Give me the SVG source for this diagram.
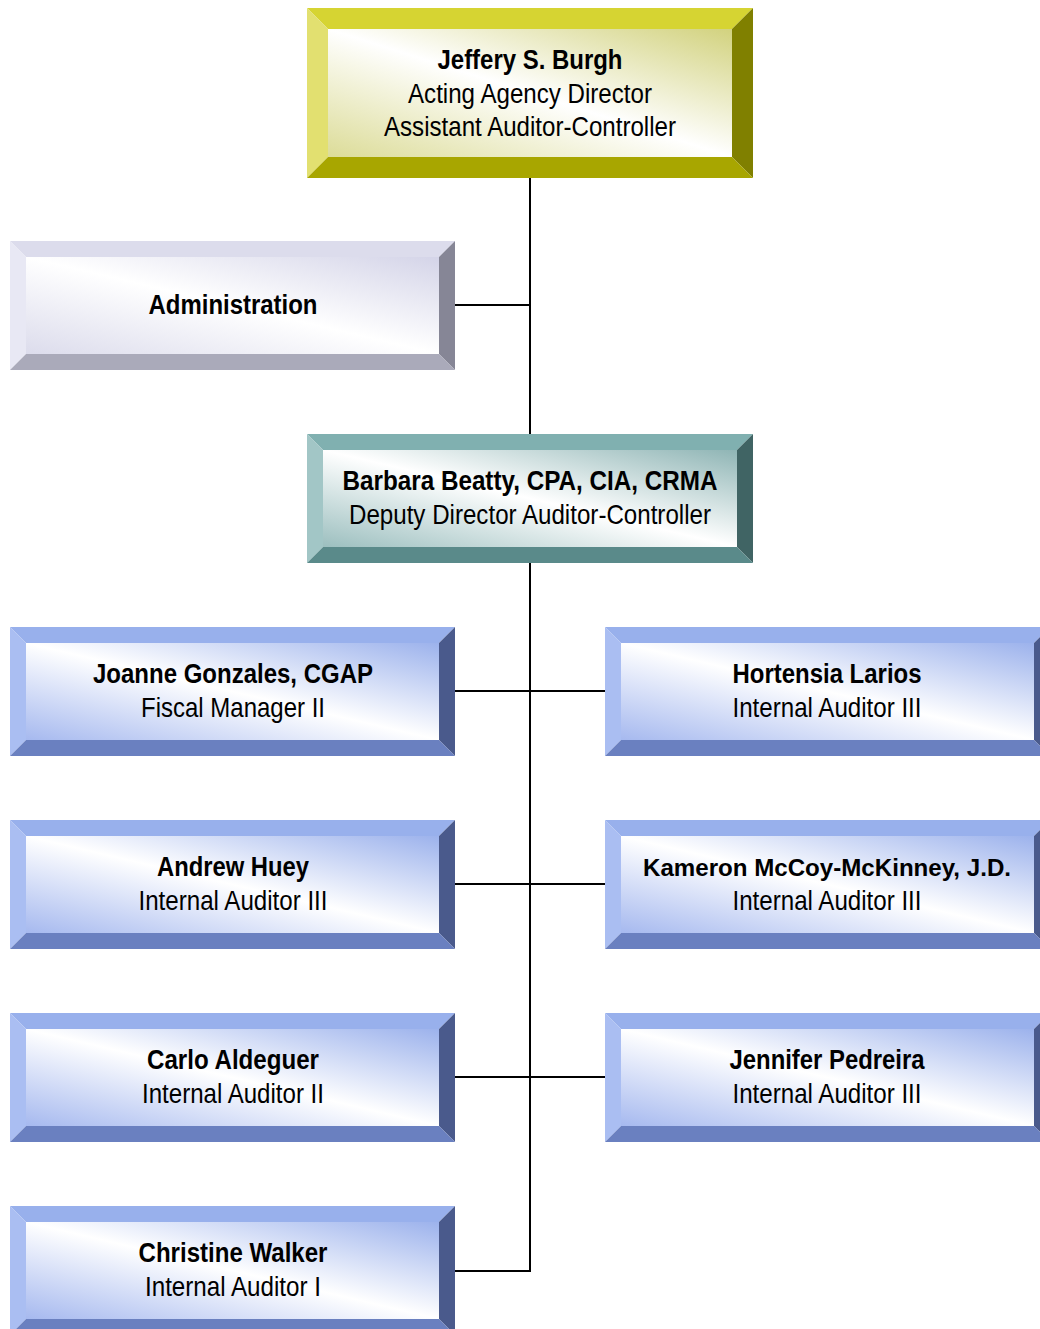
<svg xmlns="http://www.w3.org/2000/svg" width="1040" height="1329" viewBox="0 0 1040 1329">
<defs>
<linearGradient id="gY" x1="1" y1="0" x2="0" y2="1"><stop offset="0" stop-color="#d2d27e"/><stop offset="0.5" stop-color="#ffffff"/><stop offset="1" stop-color="#dcdc98"/></linearGradient>
<linearGradient id="gA" x1="1" y1="0" x2="0" y2="1"><stop offset="0" stop-color="#d4d4e8"/><stop offset="0.5" stop-color="#ffffff"/><stop offset="1" stop-color="#dcdcec"/></linearGradient>
<linearGradient id="gT" x1="1" y1="0" x2="0" y2="1"><stop offset="0" stop-color="#8fb5b5"/><stop offset="0.5" stop-color="#ffffff"/><stop offset="1" stop-color="#9cbfbf"/></linearGradient>
<linearGradient id="gB" x1="1" y1="0" x2="0" y2="1"><stop offset="0" stop-color="#9cb2ec"/><stop offset="0.5" stop-color="#ffffff"/><stop offset="1" stop-color="#a6b9ef"/></linearGradient>
</defs>
<style>
text{font-family:"Liberation Sans Narrow","Liberation Sans",Arial,sans-serif;font-size:27.5px;fill:#000;text-anchor:middle}
.b{font-weight:bold}
.s{font-size:24.5px}
.y .t{fill:#d6d432}.y .l{fill:#e2e070}.y .r{fill:#808000}.y .m{fill:#a8a600}.y .i{fill:url(#gY)}
.a .t{fill:#dcdcec}.a .l{fill:#e8e8f4}.a .r{fill:#868696}.a .m{fill:#aaaaba}.a .i{fill:url(#gA)}
.c .t{fill:#80b0b0}.c .l{fill:#a2c6c6}.c .r{fill:#406464}.c .m{fill:#5a8a8a}.c .i{fill:url(#gT)}
.u .t{fill:#98b0ec}.u .l{fill:#aabef2}.u .r{fill:#4a5a8c}.u .m{fill:#6a80c0}.u .i{fill:url(#gB)}
.edge{fill:none;stroke:#000;stroke-width:2}
</style>
<rect width="1040" height="1329" fill="#fff"/>
<g id="connectors">
<path class="edge" d="M530 178V434M455 305H530M530 563V1271H455M455 691H605M455 884H605M455 1077H605"/>
</g>
<g id="n-burgh" class="y">
<polygon class="t" points="307,8 753,8 732,29 328,29"/>
<polygon class="l" points="307,8 328,29 328,157 307,178"/>
<polygon class="r" points="753,8 732,29 732,157 753,178"/>
<polygon class="m" points="307,178 328,157 732,157 753,178"/>
<rect class="i" x="328" y="29" width="404" height="128"/>
<text class="b" x="530" y="69" textLength="185" lengthAdjust="spacingAndGlyphs">Jeffery S. Burgh</text>
<text x="530" y="103" textLength="244" lengthAdjust="spacingAndGlyphs">Acting Agency Director</text>
<text x="530" y="136" textLength="292" lengthAdjust="spacingAndGlyphs">Assistant Auditor-Controller</text>
</g>
<g id="n-admin" class="a">
<polygon class="t" points="10,241 455,241 439,257 26,257"/>
<polygon class="l" points="10,241 26,257 26,354 10,370"/>
<polygon class="r" points="455,241 439,257 439,354 455,370"/>
<polygon class="m" points="10,370 26,354 439,354 455,370"/>
<rect class="i" x="26" y="257" width="413" height="97"/>
<text class="b" x="233" y="314" textLength="169" lengthAdjust="spacingAndGlyphs">Administration</text>
</g>
<g id="n-beatty" class="c">
<polygon class="t" points="307,434 753,434 737,450 323,450"/>
<polygon class="l" points="307,434 323,450 323,547 307,563"/>
<polygon class="r" points="753,434 737,450 737,547 753,563"/>
<polygon class="m" points="307,563 323,547 737,547 753,563"/>
<rect class="i" x="323" y="450" width="414" height="97"/>
<text class="b" x="530" y="490" textLength="375" lengthAdjust="spacingAndGlyphs">Barbara Beatty, CPA, CIA, CRMA</text>
<text x="530" y="524" textLength="362" lengthAdjust="spacingAndGlyphs">Deputy Director Auditor-Controller</text>
</g>
<g id="n-gonzales" class="u">
<polygon class="t" points="10,627 455,627 439,643 26,643"/>
<polygon class="l" points="10,627 26,643 26,740 10,756"/>
<polygon class="r" points="455,627 439,643 439,740 455,756"/>
<polygon class="m" points="10,756 26,740 439,740 455,756"/>
<rect class="i" x="26" y="643" width="413" height="97"/>
<text class="b" x="233" y="683" textLength="280" lengthAdjust="spacingAndGlyphs">Joanne Gonzales, CGAP</text>
<text x="233" y="717" textLength="184" lengthAdjust="spacingAndGlyphs">Fiscal Manager II</text>
</g>
<g id="n-larios" class="u">
<polygon class="t" points="605,627 1050,627 1034,643 621,643"/>
<polygon class="l" points="605,627 621,643 621,740 605,756"/>
<polygon class="r" points="1050,627 1034,643 1034,740 1050,756"/>
<polygon class="m" points="605,756 621,740 1034,740 1050,756"/>
<rect class="i" x="621" y="643" width="413" height="97"/>
<text class="b" x="827" y="683" textLength="189" lengthAdjust="spacingAndGlyphs">Hortensia Larios</text>
<text x="827" y="717" textLength="189" lengthAdjust="spacingAndGlyphs">Internal Auditor III</text>
</g>
<g id="n-huey" class="u">
<polygon class="t" points="10,820 455,820 439,836 26,836"/>
<polygon class="l" points="10,820 26,836 26,933 10,949"/>
<polygon class="r" points="455,820 439,836 439,933 455,949"/>
<polygon class="m" points="10,949 26,933 439,933 455,949"/>
<rect class="i" x="26" y="836" width="413" height="97"/>
<text class="b" x="233" y="876" textLength="152" lengthAdjust="spacingAndGlyphs">Andrew Huey</text>
<text x="233" y="910" textLength="189" lengthAdjust="spacingAndGlyphs">Internal Auditor III</text>
</g>
<g id="n-mccoy" class="u">
<polygon class="t" points="605,820 1050,820 1034,836 621,836"/>
<polygon class="l" points="605,820 621,836 621,933 605,949"/>
<polygon class="r" points="1050,820 1034,836 1034,933 1050,949"/>
<polygon class="m" points="605,949 621,933 1034,933 1050,949"/>
<rect class="i" x="621" y="836" width="413" height="97"/>
<text class="b s" x="827" y="876" textLength="368" lengthAdjust="spacingAndGlyphs">Kameron McCoy-McKinney, J.D.</text>
<text x="827" y="910" textLength="189" lengthAdjust="spacingAndGlyphs">Internal Auditor III</text>
</g>
<g id="n-aldeguer" class="u">
<polygon class="t" points="10,1013 455,1013 439,1029 26,1029"/>
<polygon class="l" points="10,1013 26,1029 26,1126 10,1142"/>
<polygon class="r" points="455,1013 439,1029 439,1126 455,1142"/>
<polygon class="m" points="10,1142 26,1126 439,1126 455,1142"/>
<rect class="i" x="26" y="1029" width="413" height="97"/>
<text class="b" x="233" y="1069" textLength="172" lengthAdjust="spacingAndGlyphs">Carlo Aldeguer</text>
<text x="233" y="1103" textLength="182" lengthAdjust="spacingAndGlyphs">Internal Auditor II</text>
</g>
<g id="n-pedreira" class="u">
<polygon class="t" points="605,1013 1050,1013 1034,1029 621,1029"/>
<polygon class="l" points="605,1013 621,1029 621,1126 605,1142"/>
<polygon class="r" points="1050,1013 1034,1029 1034,1126 1050,1142"/>
<polygon class="m" points="605,1142 621,1126 1034,1126 1050,1142"/>
<rect class="i" x="621" y="1029" width="413" height="97"/>
<text class="b" x="827" y="1069" textLength="195" lengthAdjust="spacingAndGlyphs">Jennifer Pedreira</text>
<text x="827" y="1103" textLength="189" lengthAdjust="spacingAndGlyphs">Internal Auditor III</text>
</g>
<g id="n-walker" class="u">
<polygon class="t" points="10,1206 455,1206 439,1222 26,1222"/>
<polygon class="l" points="10,1206 26,1222 26,1319 10,1335"/>
<polygon class="r" points="455,1206 439,1222 439,1319 455,1335"/>
<polygon class="m" points="10,1335 26,1319 439,1319 455,1335"/>
<rect class="i" x="26" y="1222" width="413" height="97"/>
<text class="b" x="233" y="1262" textLength="189" lengthAdjust="spacingAndGlyphs">Christine Walker</text>
<text x="233" y="1296" textLength="176" lengthAdjust="spacingAndGlyphs">Internal Auditor I</text>
</g>
</svg>
